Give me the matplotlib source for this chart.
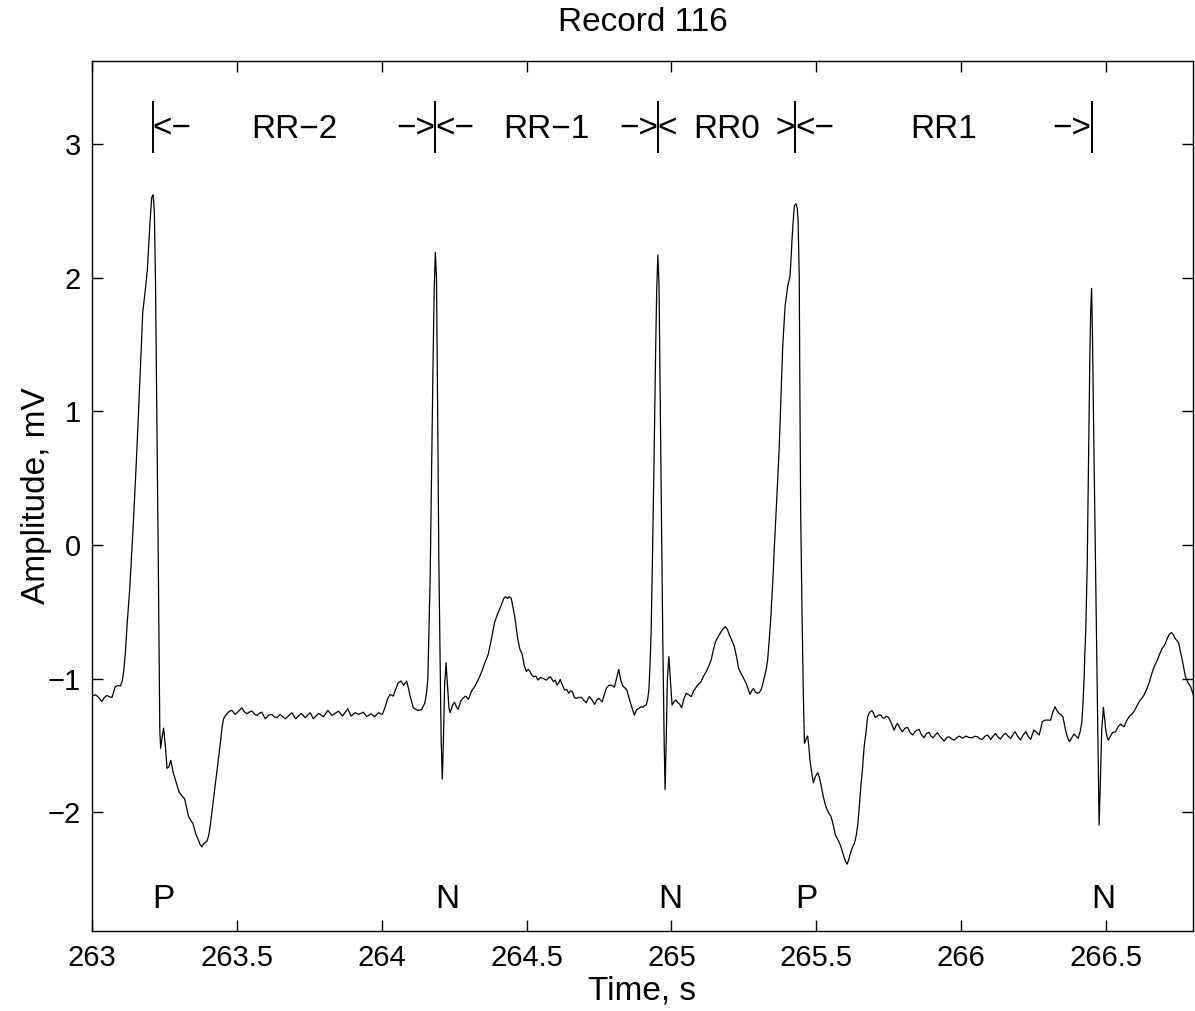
import matplotlib
matplotlib.use('Agg')
import matplotlib.pyplot as plt
import numpy as np

plt.rcParams['font.family'] = ['Liberation Sans', 'DejaVu Sans']

# ECG trace (time in s, amplitude in mV)
t_s = [
    263.000, 263.012, 263.023, 263.034, 263.043, 263.052, 263.060, 263.069, 263.080, 263.090,
    263.098, 263.104, 263.109, 263.115, 263.120, 263.124, 263.131, 263.142, 263.154, 263.166,
    263.175, 263.183, 263.191, 263.200, 263.206, 263.211, 263.215, 263.219, 263.223, 263.229,
    263.234, 263.237, 263.241, 263.247, 263.253, 263.259, 263.265, 263.272, 263.280, 263.287,
    263.301, 263.312, 263.320, 263.333, 263.341, 263.348, 263.358, 263.366, 263.373, 263.379,
    263.387, 263.397, 263.403, 263.408, 263.416, 263.425, 263.434, 263.443, 263.449, 263.454,
    263.462, 263.471, 263.477, 263.483, 263.494, 263.505, 263.517, 263.525, 263.534, 263.544,
    263.552, 263.561, 263.569, 263.578, 263.586, 263.598, 263.610, 263.621, 263.629, 263.638,
    263.649, 263.667, 263.690, 263.703, 263.722, 263.736, 263.753, 263.764, 263.782, 263.799,
    263.814, 263.828, 263.851, 263.864, 263.883, 263.894, 263.908, 263.920, 263.937, 263.948,
    263.963, 263.975, 263.989, 264.002, 264.011, 264.020, 264.029, 264.040, 264.048, 264.057,
    264.067, 264.075, 264.086, 264.092, 264.098, 264.109, 264.124, 264.138, 264.149, 264.155,
    264.159, 264.163, 264.167, 264.172, 264.177, 264.181, 264.185, 264.189, 264.193, 264.197,
    264.201, 264.205, 264.209, 264.213, 264.217, 264.222, 264.227, 264.232, 264.236, 264.244,
    264.251, 264.258, 264.264, 264.272, 264.282, 264.290, 264.299, 264.310, 264.322, 264.330,
    264.339, 264.348, 264.355, 264.367, 264.378, 264.390, 264.401, 264.413, 264.421, 264.428,
    264.434, 264.439, 264.447, 264.459, 264.470, 264.477, 264.484, 264.492, 264.499, 264.505,
    264.510, 264.517, 264.524, 264.532, 264.539, 264.548, 264.556, 264.568, 264.575, 264.582,
    264.593, 264.599, 264.605, 264.611, 264.616, 264.624, 264.631, 264.638, 264.646, 264.652,
    264.658, 264.665, 264.671, 264.680, 264.689, 264.697, 264.706, 264.712, 264.717, 264.726,
    264.735, 264.742, 264.749, 264.755, 264.761, 264.768, 264.775, 264.784, 264.792, 264.798,
    264.803, 264.810, 264.818, 264.825, 264.832, 264.840, 264.846, 264.853, 264.861, 264.867,
    264.872, 264.880, 264.887, 264.895, 264.901, 264.908, 264.913, 264.918, 264.922, 264.926,
    264.930, 264.934, 264.940, 264.945, 264.949, 264.953, 264.957, 264.961, 264.966, 264.970,
    264.975, 264.978, 264.982, 264.986, 264.991, 264.996, 265.002, 265.009, 265.016, 265.022,
    265.028, 265.035, 265.043, 265.051, 265.060, 265.068, 265.077, 265.085, 265.094, 265.102,
    265.111, 265.120, 265.128, 265.137, 265.145, 265.152, 265.160, 265.168, 265.177, 265.186,
    265.193, 265.200, 265.208, 265.217, 265.225, 265.232, 265.240, 265.246, 265.252, 265.258,
    265.265, 265.271, 265.277, 265.283, 265.290, 265.298, 265.304, 265.309, 265.315, 265.321,
    265.327, 265.332, 265.336, 265.340, 265.344, 265.350, 265.355, 265.361, 265.367, 265.372,
    265.378, 265.384, 265.392, 265.401, 265.409, 265.413, 265.416, 265.420, 265.424, 265.430,
    265.434, 265.437, 265.441, 265.443, 265.446, 265.451, 265.455, 265.459, 265.465, 265.470,
    265.474, 265.478, 265.484, 265.490, 265.497, 265.505, 265.511, 265.516, 265.524, 265.533,
    265.542, 265.551, 265.559, 265.566, 265.576, 265.585, 265.591, 265.597, 265.602, 265.606,
    265.611, 265.616, 265.623, 265.631, 265.635, 265.639, 265.644, 265.648, 265.654, 265.660,
    265.665, 265.671, 265.677, 265.684, 265.692, 265.698, 265.703, 265.710, 265.717, 265.723,
    265.728, 265.734, 265.741, 265.749, 265.757, 265.764, 265.769, 265.775, 265.780, 265.789,
    265.797, 265.806, 265.815, 265.823, 265.832, 265.843, 265.855, 265.863, 265.872, 265.880,
    265.889, 265.896, 265.903, 265.910, 265.918, 265.930, 265.941, 265.950, 265.958, 265.967,
    265.976, 265.985, 265.993, 266.005, 266.016, 266.028, 266.039, 266.047, 266.056, 266.065,
    266.073, 266.082, 266.091, 266.102, 266.110, 266.119, 266.128, 266.136, 266.145, 266.154,
    266.162, 266.171, 266.178, 266.186, 266.195, 266.205, 266.214, 266.223, 266.231, 266.240,
    266.245, 266.251, 266.260, 266.269, 266.275, 266.280, 266.289, 266.297, 266.303, 266.309,
    266.316, 266.324, 266.331, 266.338, 266.345, 266.351, 266.357, 266.363, 266.369, 266.374,
    266.382, 266.389, 266.397, 266.404, 266.410, 266.416, 266.420, 266.424, 266.427, 266.430,
    266.435, 266.440, 266.444, 266.447, 266.450, 266.453, 266.457, 266.462, 266.466, 266.470,
    266.473, 266.476, 266.480, 266.485, 266.491, 266.495, 266.499, 266.504, 266.508, 266.515,
    266.522, 266.527, 266.533, 266.541, 266.550, 266.556, 266.562, 266.570, 266.579, 266.587,
    266.596, 266.605, 266.614, 266.622, 266.631, 266.640, 266.648, 266.654, 266.660, 266.668,
    266.677, 266.686, 266.694, 266.700, 266.705, 266.711, 266.717, 266.722, 266.726, 266.732,
    266.738, 266.745, 266.751, 266.757, 266.763, 266.769, 266.774, 266.783, 266.792, 266.803,
]
amp_mv = [
    -1.130, -1.120, -1.140, -1.170, -1.140, -1.125, -1.135, -1.140, -1.060, -1.050,
    -1.055, -1.020, -0.950, -0.810, -0.630, -0.510, -0.300, 0.140, 0.670, 1.270,
    1.740, 1.890, 2.060, 2.410, 2.600, 2.620, 2.500, 2.000, 1.140, -0.190,
    -1.390, -1.520, -1.450, -1.370, -1.500, -1.670, -1.660, -1.610, -1.700, -1.750,
    -1.850, -1.880, -1.900, -2.030, -2.060, -2.080, -2.160, -2.200, -2.240, -2.257,
    -2.230, -2.215, -2.170, -2.100, -1.960, -1.800, -1.640, -1.480, -1.360, -1.300,
    -1.270, -1.250, -1.240, -1.237, -1.267, -1.245, -1.217, -1.245, -1.262, -1.248,
    -1.242, -1.265, -1.274, -1.258, -1.250, -1.300, -1.272, -1.267, -1.285, -1.292,
    -1.267, -1.299, -1.254, -1.299, -1.259, -1.292, -1.254, -1.299, -1.259, -1.284,
    -1.237, -1.274, -1.242, -1.279, -1.225, -1.279, -1.254, -1.267, -1.250, -1.284,
    -1.262, -1.284, -1.254, -1.267, -1.217, -1.150, -1.117, -1.130, -1.080, -1.030,
    -1.017, -1.050, -1.017, -1.070, -1.130, -1.217, -1.237, -1.230, -1.180, -1.100,
    -1.005, -0.630, -0.260, 0.550, 1.350, 1.900, 2.190, 2.000, 1.000, -0.100,
    -0.800, -1.450, -1.750, -1.450, -1.050, -0.880, -1.050, -1.220, -1.254, -1.200,
    -1.175, -1.210, -1.230, -1.170, -1.142, -1.130, -1.155, -1.092, -1.055, -1.020,
    -0.980, -0.930, -0.885, -0.822, -0.710, -0.573, -0.510, -0.448, -0.400, -0.386,
    -0.400, -0.386, -0.398, -0.535, -0.710, -0.780, -0.810, -0.900, -0.947, -0.930,
    -0.940, -0.970, -0.985, -0.980, -1.010, -0.990, -0.997, -1.010, -0.995, -0.985,
    -1.022, -1.010, -1.047, -1.030, -1.005, -1.050, -1.084, -1.080, -1.109, -1.090,
    -1.097, -1.140, -1.147, -1.140, -1.139, -1.160, -1.179, -1.150, -1.134, -1.160,
    -1.192, -1.160, -1.147, -1.160, -1.172, -1.120, -1.072, -1.050, -1.047, -1.055,
    -1.064, -1.000, -0.930, -1.010, -1.054, -1.070, -1.084, -1.140, -1.197, -1.240,
    -1.272, -1.230, -1.222, -1.210, -1.214, -1.200, -1.197, -1.150, -1.084, -0.900,
    -0.635, -0.150, 0.650, 1.400, 1.900, 2.170, 1.950, 1.100, 0.100, -0.700,
    -1.500, -1.830, -1.450, -1.000, -0.835, -1.000, -1.197, -1.170, -1.159, -1.180,
    -1.189, -1.217, -1.150, -1.109, -1.120, -1.134, -1.090, -1.064, -1.040, -1.022,
    -0.980, -0.947, -0.910, -0.860, -0.780, -0.723, -0.690, -0.660, -0.630, -0.610,
    -0.630, -0.673, -0.710, -0.760, -0.840, -0.922, -0.960, -0.985, -1.010, -1.035,
    -1.080, -1.117, -1.090, -1.072, -1.100, -1.109, -1.100, -1.084, -1.040, -0.985,
    -0.930, -0.860, -0.750, -0.635, -0.500, -0.260, -0.020, 0.238, 0.500, 0.737,
    1.110, 1.485, 1.784, 1.934, 2.009, 2.150, 2.284, 2.420, 2.533, 2.553,
    2.520, 2.433, 2.010, 1.236, 0.238, -0.560, -1.100, -1.483, -1.450, -1.428,
    -1.500, -1.608, -1.700, -1.778, -1.730, -1.703, -1.740, -1.795, -1.880, -1.958,
    -2.000, -2.032, -2.100, -2.170, -2.210, -2.257, -2.300, -2.344, -2.370, -2.387,
    -2.360, -2.320, -2.270, -2.232, -2.200, -2.157, -2.070, -1.958, -1.800, -1.658,
    -1.509, -1.409, -1.284, -1.250, -1.239, -1.260, -1.289, -1.280, -1.270, -1.272,
    -1.290, -1.296, -1.280, -1.289, -1.321, -1.360, -1.384, -1.350, -1.334, -1.370,
    -1.396, -1.370, -1.364, -1.400, -1.421, -1.390, -1.379, -1.420, -1.441, -1.410,
    -1.401, -1.430, -1.441, -1.420, -1.404, -1.440, -1.466, -1.440, -1.434, -1.450,
    -1.459, -1.440, -1.429, -1.445, -1.429, -1.440, -1.441, -1.430, -1.434, -1.450,
    -1.454, -1.430, -1.421, -1.454, -1.430, -1.409, -1.440, -1.451, -1.420, -1.409,
    -1.430, -1.446, -1.420, -1.396, -1.430, -1.459, -1.420, -1.396, -1.430, -1.454,
    -1.420, -1.384, -1.400, -1.421, -1.370, -1.321, -1.310, -1.309, -1.310, -1.309,
    -1.250, -1.209, -1.240, -1.259, -1.270, -1.284, -1.350, -1.409, -1.450, -1.471,
    -1.440, -1.414, -1.430, -1.446, -1.400, -1.334, -1.200, -1.010, -0.800, -0.635,
    -0.150, 0.700, 1.400, 1.750, 1.920, 1.600, 0.900, 0.100, -0.550, -1.200,
    -1.700, -2.095, -1.800, -1.384, -1.214, -1.300, -1.384, -1.440, -1.459, -1.430,
    -1.404, -1.400, -1.396, -1.360, -1.339, -1.350, -1.359, -1.320, -1.284, -1.270,
    -1.247, -1.210, -1.172, -1.150, -1.122, -1.080, -1.034, -0.990, -0.947, -0.900,
    -0.860, -0.810, -0.773, -0.755, -0.735, -0.700, -0.673, -0.660, -0.655, -0.670,
    -0.698, -0.715, -0.735, -0.800, -0.860, -0.930, -0.985, -1.030, -1.059, -1.134,
]

# beat annotations
r_times = [263.209, 264.185, 264.953, 265.426, 266.450]
beat_labels = ['P', 'N', 'N', 'P', 'N']
rr_names = ['RR\u22122', 'RR\u22121', 'RR0', 'RR1']
left_arrows = ['<\u2212', '<\u2212', '<', '<\u2212']
right_arrows = ['\u2212>', '\u2212>', '>', '\u2212>']

fig = plt.figure(figsize=(11.95, 10.11), dpi=100)
ax = fig.add_axes([0.077, 0.0791, 0.9213, 0.8605])

ax.plot(t_s, amp_mv, color='black', linewidth=0.9)

y_lo = min(amp_mv) - 0.5
y_hi = max(amp_mv) + 1.0
ax.set_xlim(263, 266.8)
ax.set_ylim(y_lo, y_hi)

# RR interval markers along the top
y_txt = 3.11
ax.vlines(r_times, 2.93, 3.32, color='black', linewidth=1.4)
for i, name in enumerate(rr_names):
    x0, x1 = r_times[i], r_times[i + 1]
    ax.text((x0 + x1) / 2, y_txt, name, ha='center', va='center', fontsize=24)
    ax.text(x0, y_txt, left_arrows[i], ha='left', va='center', fontsize=24)
    ax.text(x1, y_txt, right_arrows[i], ha='right', va='center', fontsize=24)

for tx, lab in zip(r_times, beat_labels):
    ax.text(tx, -2.65, lab, ha='left', va='center', fontsize=24)

ax.set_xticks([263, 263.5, 264, 264.5, 265, 265.5, 266, 266.5])
ax.set_xticklabels(['263', '263.5', '264', '264.5', '265', '265.5', '266', '266.5'])
ax.set_yticks([-2, -1, 0, 1, 2, 3])
ax.tick_params(direction='in', length=8, width=1.0, top=True, right=True,
               labelsize=21, pad=8)
ax.tick_params(axis='x', pad=9)
for sp in ax.spines.values():
    sp.set_linewidth(1.0)

ax.set_title('Record 116', fontsize=24, pad=22)
ax.set_xlabel('Time, s', fontsize=24, labelpad=3)
ax.set_ylabel('Amplitude, mV', fontsize=24, labelpad=-3)

fig.savefig('out.png', dpi=100, facecolor='white')
